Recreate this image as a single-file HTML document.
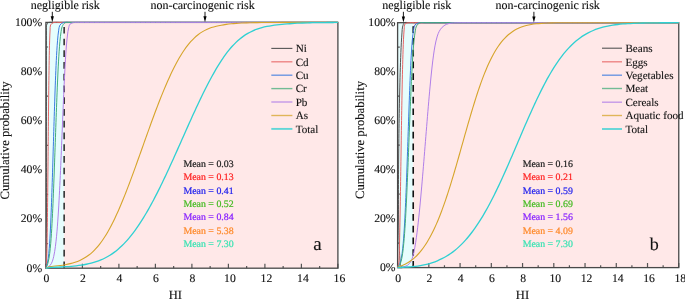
<!DOCTYPE html>
<html><head><meta charset="utf-8"><style>
html,body{margin:0;padding:0;background:#fff;width:685px;height:300px;overflow:hidden}
svg{display:block;will-change:transform;filter:blur(0.3px)}
text{font-family:"Liberation Serif", serif;text-rendering:geometricPrecision;stroke:#111;stroke-width:0.12px}
</style></head><body>
<svg width="685" height="300" viewBox="0 0 685 300" font-size="10.8" fill="#111" stroke="none">
<rect width="685" height="300" fill="#fff"/>
<g>
<rect x="45.90" y="22.40" width="18.25" height="245.80" fill="#e6fdfd"/>
<rect x="64.15" y="22.40" width="273.75" height="245.80" fill="#ffe8e8"/>
<line x1="64.15" y1="268.20" x2="64.15" y2="22.40" stroke="#333" stroke-width="1.6" stroke-dasharray="6.7,5.03" stroke-dashoffset="0"/>
<path d="M45.90,268.20v-4.50M64.15,268.20v-2.30M82.40,268.20v-4.50M100.65,268.20v-2.30M118.90,268.20v-4.50M137.15,268.20v-2.30M155.40,268.20v-4.50M173.65,268.20v-2.30M191.90,268.20v-4.50M210.15,268.20v-2.30M228.40,268.20v-4.50M246.65,268.20v-2.30M264.90,268.20v-4.50M283.15,268.20v-2.30M301.40,268.20v-4.50M319.65,268.20v-2.30M337.90,268.20v-4.50M45.90,243.62h2.20M45.90,194.46h2.20M45.90,145.30h2.20M45.90,96.14h2.20M45.90,46.98h2.20" stroke="#555" stroke-width="1.2" fill="none"/>
<rect x="45.90" y="22.40" width="292.00" height="245.80" fill="none" stroke="#484848" stroke-width="1.3"/>
<path d="M45.90,268.20 C46.00,267.45 46.40,265.32 46.50,263.73 C46.60,262.13 46.50,260.34 46.50,258.65 C46.50,256.96 46.50,255.27 46.50,253.58 C46.50,251.89 46.50,250.20 46.50,248.50 C46.50,246.81 46.50,245.12 46.50,243.43 C46.50,241.74 46.50,240.05 46.50,238.36 C46.50,236.67 46.50,234.98 46.50,233.28 C46.50,231.59 46.50,229.90 46.50,228.21 C46.50,226.52 46.50,224.83 46.50,223.14 C46.50,221.45 46.50,219.75 46.50,218.06 C46.50,216.37 46.50,214.68 46.50,212.99 C46.50,211.30 46.50,209.61 46.50,207.92 C46.50,206.23 46.50,204.53 46.50,202.84 C46.50,201.15 46.50,199.46 46.50,197.77 C46.50,196.08 46.50,194.39 46.50,192.70 C46.50,191.00 46.50,189.31 46.50,187.62 C46.50,185.93 46.50,184.24 46.50,182.55 C46.50,180.86 46.50,179.17 46.50,177.47 C46.50,175.78 46.50,174.09 46.50,172.40 C46.50,170.71 46.50,169.02 46.50,167.33 C46.50,165.64 46.50,163.95 46.50,162.25 C46.50,160.56 46.50,158.87 46.50,157.18 C46.50,155.49 46.50,153.80 46.50,152.11 C46.50,150.42 46.50,148.72 46.50,147.03 C46.50,145.34 46.50,143.65 46.50,141.96 C46.50,140.27 46.50,138.58 46.50,136.89 C46.50,135.20 46.50,133.50 46.50,131.81 C46.50,130.12 46.50,128.43 46.50,126.74 C46.50,125.05 46.50,123.36 46.50,121.67 C46.50,119.97 46.50,118.28 46.50,116.59 C46.50,114.90 46.50,113.21 46.50,111.52 C46.50,109.83 46.50,108.14 46.50,106.44 C46.50,104.75 46.50,103.06 46.50,101.37 C46.50,99.68 46.50,97.99 46.50,96.30 C46.50,94.61 46.50,92.92 46.50,91.22 C46.50,89.53 46.50,87.84 46.50,86.15 C46.50,84.46 46.50,82.77 46.50,81.08 C46.50,79.39 46.50,77.69 46.50,76.00 C46.50,74.31 46.50,72.62 46.50,70.93 C46.50,69.24 46.50,67.55 46.50,65.86 C46.50,64.17 46.50,62.47 46.50,60.78 C46.50,59.09 46.50,57.40 46.50,55.71 C46.50,54.02 46.50,52.33 46.50,50.64 C46.50,48.94 46.50,47.25 46.50,45.56 C46.50,43.87 46.50,42.18 46.50,40.49 C46.50,38.80 46.50,37.11 46.50,35.41 C46.50,33.72 46.50,32.03 46.50,30.34 C46.50,28.65 46.13,26.59 46.50,25.27 C46.87,23.94 47.49,22.88 48.71,22.40 C49.92,21.92 52.09,22.40 53.78,22.40 C55.47,22.40 57.16,22.40 58.85,22.40 C60.54,22.40 62.24,22.40 63.93,22.40 C65.62,22.40 67.31,22.40 69.00,22.40 C70.69,22.40 72.38,22.40 74.07,22.40 C75.77,22.40 77.46,22.40 79.15,22.40 C80.84,22.40 82.53,22.40 84.22,22.40 C85.91,22.40 87.60,22.40 89.30,22.40 C90.99,22.40 92.68,22.40 94.37,22.40 C96.06,22.40 97.75,22.40 99.44,22.40 C101.13,22.40 102.82,22.40 104.52,22.40 C106.21,22.40 107.90,22.40 109.59,22.40 C111.28,22.40 112.97,22.40 114.66,22.40 C116.35,22.40 118.05,22.40 119.74,22.40 C121.43,22.40 123.12,22.40 124.81,22.40 C126.50,22.40 128.19,22.40 129.88,22.40 C131.57,22.40 133.27,22.40 134.96,22.40 C136.65,22.40 138.34,22.40 140.03,22.40 C141.72,22.40 143.41,22.40 145.10,22.40 C146.80,22.40 148.49,22.40 150.18,22.40 C151.87,22.40 153.56,22.40 155.25,22.40 C156.94,22.40 158.63,22.40 160.33,22.40 C162.02,22.40 163.71,22.40 165.40,22.40 C167.09,22.40 168.78,22.40 170.47,22.40 C172.16,22.40 173.85,22.40 175.55,22.40 C177.24,22.40 178.93,22.40 180.62,22.40 C182.31,22.40 184.00,22.40 185.69,22.40 C187.38,22.40 189.08,22.40 190.77,22.40 C192.46,22.40 194.15,22.40 195.84,22.40 C197.53,22.40 199.22,22.40 200.91,22.40 C202.60,22.40 204.30,22.40 205.99,22.40 C207.68,22.40 209.37,22.40 211.06,22.40 C212.75,22.40 214.44,22.40 216.13,22.40 C217.83,22.40 219.52,22.40 221.21,22.40 C222.90,22.40 224.59,22.40 226.28,22.40 C227.97,22.40 229.66,22.40 231.36,22.40 C233.05,22.40 234.74,22.40 236.43,22.40 C238.12,22.40 239.81,22.40 241.50,22.40 C243.19,22.40 244.88,22.40 246.58,22.40 C248.27,22.40 249.96,22.40 251.65,22.40 C253.34,22.40 255.03,22.40 256.72,22.40 C258.41,22.40 260.11,22.40 261.80,22.40 C263.49,22.40 265.18,22.40 266.87,22.40 C268.56,22.40 270.25,22.40 271.94,22.40 C273.63,22.40 275.33,22.40 277.02,22.40 C278.71,22.40 280.40,22.40 282.09,22.40 C283.78,22.40 285.47,22.40 287.16,22.40 C288.86,22.40 290.55,22.40 292.24,22.40 C293.93,22.40 295.62,22.40 297.31,22.40 C299.00,22.40 300.69,22.40 302.39,22.40 C304.08,22.40 305.77,22.40 307.46,22.40 C309.15,22.40 310.84,22.40 312.53,22.40 C314.22,22.40 315.91,22.40 317.61,22.40 C319.30,22.40 320.99,22.40 322.68,22.40 C324.37,22.40 326.06,22.40 327.75,22.40 C329.44,22.40 331.14,22.40 332.83,22.40 C334.52,22.40 337.05,22.40 337.90,22.40" stroke="#555555" stroke-width="1.0" fill="none" stroke-linejoin="round"/>
<path d="M45.90,268.20 C46.00,267.36 46.36,264.86 46.50,263.18 C46.63,261.50 46.65,259.81 46.71,258.12 C46.77,256.43 46.82,254.74 46.86,253.05 C46.90,251.36 46.94,249.67 46.98,247.98 C47.01,246.29 47.04,244.60 47.07,242.91 C47.10,241.22 47.13,239.53 47.16,237.84 C47.19,236.15 47.21,234.46 47.24,232.77 C47.26,231.08 47.29,229.39 47.31,227.70 C47.33,226.01 47.35,224.32 47.38,222.63 C47.40,220.94 47.42,219.25 47.44,217.56 C47.46,215.87 47.48,214.18 47.50,212.49 C47.52,210.80 47.54,209.11 47.56,207.42 C47.58,205.73 47.59,204.04 47.61,202.35 C47.63,200.66 47.65,198.97 47.67,197.28 C47.68,195.59 47.70,193.90 47.72,192.21 C47.74,190.52 47.75,188.83 47.77,187.14 C47.79,185.45 47.80,183.76 47.82,182.07 C47.84,180.38 47.85,178.69 47.87,177.00 C47.89,175.31 47.90,173.62 47.92,171.93 C47.94,170.24 47.95,168.55 47.97,166.86 C47.99,165.17 48.00,163.48 48.02,161.79 C48.03,160.10 48.05,158.41 48.07,156.72 C48.08,155.03 48.10,153.34 48.11,151.65 C48.13,149.96 48.15,148.27 48.16,146.58 C48.18,144.89 48.20,143.20 48.21,141.51 C48.23,139.82 48.24,138.13 48.26,136.44 C48.28,134.75 48.29,133.06 48.31,131.37 C48.33,129.68 48.34,127.99 48.36,126.30 C48.38,124.61 48.40,122.92 48.41,121.23 C48.43,119.54 48.45,117.85 48.46,116.16 C48.48,114.47 48.50,112.78 48.52,111.09 C48.54,109.40 48.55,107.71 48.57,106.02 C48.59,104.33 48.61,102.64 48.63,100.95 C48.65,99.26 48.67,97.57 48.69,95.88 C48.71,94.19 48.73,92.50 48.75,90.81 C48.77,89.12 48.79,87.43 48.81,85.74 C48.83,84.05 48.85,82.36 48.88,80.67 C48.90,78.98 48.92,77.29 48.94,75.60 C48.97,73.91 48.99,72.22 49.02,70.53 C49.04,68.84 49.07,67.15 49.10,65.46 C49.12,63.77 49.15,62.08 49.18,60.39 C49.21,58.70 49.24,57.01 49.28,55.32 C49.31,53.63 49.35,51.94 49.38,50.26 C49.42,48.57 49.46,46.88 49.50,45.19 C49.55,43.50 49.59,41.81 49.65,40.12 C49.70,38.43 49.76,36.74 49.83,35.05 C49.90,33.36 49.96,31.67 50.09,29.99 C50.21,28.30 49.93,26.21 50.58,24.94 C51.22,23.68 52.56,22.82 53.96,22.40 C55.37,21.98 57.35,22.40 59.04,22.40 C60.73,22.40 62.42,22.40 64.11,22.40 C65.80,22.40 67.49,22.40 69.18,22.40 C70.87,22.40 72.56,22.40 74.25,22.40 C75.94,22.40 77.63,22.40 79.32,22.40 C81.01,22.40 82.70,22.40 84.39,22.40 C86.08,22.40 87.77,22.40 89.46,22.40 C91.15,22.40 92.84,22.40 94.53,22.40 C96.22,22.40 97.91,22.40 99.60,22.40 C101.29,22.40 102.98,22.40 104.67,22.40 C106.36,22.40 108.05,22.40 109.74,22.40 C111.43,22.40 113.12,22.40 114.81,22.40 C116.50,22.40 118.19,22.40 119.88,22.40 C121.57,22.40 123.26,22.40 124.95,22.40 C126.64,22.40 128.33,22.40 130.02,22.40 C131.71,22.40 133.40,22.40 135.09,22.40 C136.78,22.40 138.47,22.40 140.16,22.40 C141.85,22.40 143.54,22.40 145.23,22.40 C146.92,22.40 148.61,22.40 150.30,22.40 C151.99,22.40 153.68,22.40 155.37,22.40 C157.06,22.40 158.75,22.40 160.44,22.40 C162.13,22.40 163.82,22.40 165.51,22.40 C167.20,22.40 168.89,22.40 170.58,22.40 C172.27,22.40 173.96,22.40 175.65,22.40 C177.34,22.40 179.03,22.40 180.72,22.40 C182.41,22.40 184.10,22.40 185.79,22.40 C187.48,22.40 189.17,22.40 190.86,22.40 C192.55,22.40 194.24,22.40 195.93,22.40 C197.62,22.40 199.31,22.40 201.00,22.40 C202.69,22.40 204.38,22.40 206.07,22.40 C207.76,22.40 209.45,22.40 211.14,22.40 C212.83,22.40 214.52,22.40 216.21,22.40 C217.90,22.40 219.59,22.40 221.28,22.40 C222.97,22.40 224.66,22.40 226.35,22.40 C228.04,22.40 229.73,22.40 231.42,22.40 C233.11,22.40 234.80,22.40 236.49,22.40 C238.18,22.40 239.87,22.40 241.56,22.40 C243.25,22.40 244.95,22.40 246.64,22.40 C248.33,22.40 250.02,22.40 251.71,22.40 C253.40,22.40 255.09,22.40 256.78,22.40 C258.47,22.40 260.16,22.40 261.85,22.40 C263.54,22.40 265.23,22.40 266.92,22.40 C268.61,22.40 270.30,22.40 271.99,22.40 C273.68,22.40 275.37,22.40 277.06,22.40 C278.75,22.40 280.44,22.40 282.13,22.40 C283.82,22.40 285.51,22.40 287.20,22.40 C288.89,22.40 290.58,22.40 292.27,22.40 C293.96,22.40 295.65,22.40 297.34,22.40 C299.03,22.40 300.72,22.40 302.41,22.40 C304.10,22.40 305.79,22.40 307.48,22.40 C309.17,22.40 310.86,22.40 312.55,22.40 C314.24,22.40 315.93,22.40 317.62,22.40 C319.31,22.40 321.00,22.40 322.69,22.40 C324.38,22.40 326.07,22.40 327.76,22.40 C329.45,22.40 331.14,22.40 332.83,22.40 C334.52,22.40 337.05,22.40 337.90,22.40" stroke="#e86464" stroke-width="1.0" fill="none" stroke-linejoin="round"/>
<path d="M45.90,268.20 C46.14,267.40 46.95,265.06 47.34,263.43 C47.73,261.80 47.99,260.10 48.23,258.43 C48.48,256.76 48.64,255.07 48.81,253.38 C48.99,251.70 49.12,250.01 49.26,248.32 C49.39,246.64 49.51,244.95 49.63,243.26 C49.74,241.57 49.84,239.88 49.94,238.19 C50.04,236.50 50.13,234.81 50.22,233.12 C50.31,231.43 50.40,229.73 50.48,228.04 C50.56,226.35 50.64,224.66 50.71,222.97 C50.79,221.28 50.86,219.59 50.93,217.89 C51.00,216.20 51.07,214.51 51.14,212.82 C51.21,211.13 51.27,209.44 51.34,207.74 C51.40,206.05 51.46,204.36 51.53,202.67 C51.59,200.98 51.65,199.28 51.71,197.59 C51.77,195.90 51.82,194.21 51.88,192.51 C51.94,190.82 51.99,189.13 52.05,187.44 C52.11,185.75 52.16,184.05 52.22,182.36 C52.27,180.67 52.32,178.98 52.38,177.28 C52.43,175.59 52.48,173.90 52.54,172.21 C52.59,170.51 52.64,168.82 52.69,167.13 C52.75,165.44 52.80,163.75 52.85,162.05 C52.90,160.36 52.95,158.67 53.00,156.98 C53.05,155.28 53.10,153.59 53.15,151.90 C53.21,150.21 53.26,148.51 53.31,146.82 C53.36,145.13 53.41,143.44 53.46,141.74 C53.51,140.05 53.56,138.36 53.61,136.67 C53.66,134.97 53.71,133.28 53.76,131.59 C53.81,129.90 53.86,128.20 53.92,126.51 C53.97,124.82 54.02,123.13 54.07,121.43 C54.12,119.74 54.18,118.05 54.23,116.36 C54.28,114.67 54.33,112.97 54.39,111.28 C54.44,109.59 54.49,107.90 54.55,106.20 C54.60,104.51 54.66,102.82 54.72,101.13 C54.77,99.43 54.83,97.74 54.89,96.05 C54.94,94.36 55.00,92.67 55.06,90.97 C55.12,89.28 55.18,87.59 55.24,85.90 C55.31,84.20 55.37,82.51 55.43,80.82 C55.50,79.13 55.56,77.44 55.63,75.75 C55.70,74.05 55.77,72.36 55.84,70.67 C55.91,68.98 55.99,67.29 56.06,65.60 C56.14,63.90 56.22,62.21 56.30,60.52 C56.39,58.83 56.47,57.14 56.56,55.45 C56.66,53.76 56.75,52.07 56.85,50.38 C56.96,48.69 57.06,47.00 57.18,45.31 C57.30,43.62 57.42,41.93 57.57,40.24 C57.71,38.56 57.86,36.87 58.04,35.19 C58.23,33.50 58.40,31.81 58.70,30.15 C59.00,28.49 59.03,26.50 59.85,25.21 C60.67,23.92 62.13,22.90 63.60,22.43 C65.08,21.96 66.99,22.41 68.68,22.40 C70.38,22.40 72.07,22.40 73.76,22.40 C75.46,22.40 77.15,22.40 78.84,22.40 C80.54,22.40 82.23,22.40 83.92,22.40 C85.61,22.40 87.31,22.40 89.00,22.40 C90.69,22.40 92.39,22.40 94.08,22.40 C95.77,22.40 97.47,22.40 99.16,22.40 C100.85,22.40 102.55,22.40 104.24,22.40 C105.93,22.40 107.63,22.40 109.32,22.40 C111.01,22.40 112.71,22.40 114.40,22.40 C116.09,22.40 117.79,22.40 119.48,22.40 C121.17,22.40 122.87,22.40 124.56,22.40 C126.25,22.40 127.94,22.40 129.64,22.40 C131.33,22.40 133.02,22.40 134.72,22.40 C136.41,22.40 138.10,22.40 139.80,22.40 C141.49,22.40 143.18,22.40 144.88,22.40 C146.57,22.40 148.26,22.40 149.96,22.40 C151.65,22.40 153.34,22.40 155.04,22.40 C156.73,22.40 158.42,22.40 160.12,22.40 C161.81,22.40 163.50,22.40 165.19,22.40 C166.89,22.40 168.58,22.40 170.27,22.40 C171.97,22.40 173.66,22.40 175.35,22.40 C177.05,22.40 178.74,22.40 180.43,22.40 C182.13,22.40 183.82,22.40 185.51,22.40 C187.21,22.40 188.90,22.40 190.59,22.40 C192.29,22.40 193.98,22.40 195.67,22.40 C197.37,22.40 199.06,22.40 200.75,22.40 C202.44,22.40 204.14,22.40 205.83,22.40 C207.52,22.40 209.22,22.40 210.91,22.40 C212.60,22.40 214.30,22.40 215.99,22.40 C217.68,22.40 219.38,22.40 221.07,22.40 C222.76,22.40 224.46,22.40 226.15,22.40 C227.84,22.40 229.54,22.40 231.23,22.40 C232.92,22.40 234.62,22.40 236.31,22.40 C238.00,22.40 239.70,22.40 241.39,22.40 C243.08,22.40 244.77,22.40 246.47,22.40 C248.16,22.40 249.85,22.40 251.55,22.40 C253.24,22.40 254.93,22.40 256.63,22.40 C258.32,22.40 260.01,22.40 261.71,22.40 C263.40,22.40 265.09,22.40 266.79,22.40 C268.48,22.40 270.17,22.40 271.87,22.40 C273.56,22.40 275.25,22.40 276.95,22.40 C278.64,22.40 280.33,22.40 282.02,22.40 C283.72,22.40 285.41,22.40 287.10,22.40 C288.80,22.40 290.49,22.40 292.18,22.40 C293.88,22.40 295.57,22.40 297.26,22.40 C298.96,22.40 300.65,22.40 302.34,22.40 C304.04,22.40 305.73,22.40 307.42,22.40 C309.12,22.40 310.81,22.40 312.50,22.40 C314.20,22.40 315.89,22.40 317.58,22.40 C319.27,22.40 320.97,22.40 322.66,22.40 C324.35,22.40 326.05,22.40 327.74,22.40 C329.43,22.40 331.13,22.40 332.82,22.40 C334.51,22.40 337.05,22.40 337.90,22.40" stroke="#3a7be0" stroke-width="1.0" fill="none" stroke-linejoin="round"/>
<path d="M45.90,268.20 C46.21,267.44 47.24,265.23 47.75,263.65 C48.25,262.08 48.60,260.39 48.92,258.74 C49.24,257.09 49.45,255.41 49.67,253.74 C49.89,252.07 50.06,250.39 50.23,248.72 C50.40,247.04 50.55,245.36 50.69,243.68 C50.83,242.00 50.96,240.32 51.08,238.64 C51.20,236.96 51.32,235.28 51.43,233.60 C51.54,231.92 51.64,230.24 51.74,228.55 C51.84,226.87 51.93,225.19 52.02,223.51 C52.12,221.82 52.20,220.14 52.29,218.46 C52.37,216.78 52.46,215.09 52.54,213.41 C52.62,211.73 52.70,210.04 52.77,208.36 C52.85,206.68 52.92,204.99 53.00,203.31 C53.07,201.63 53.14,199.94 53.21,198.26 C53.28,196.58 53.35,194.89 53.42,193.21 C53.49,191.53 53.55,189.84 53.62,188.16 C53.69,186.47 53.75,184.79 53.81,183.11 C53.88,181.42 53.94,179.74 54.01,178.05 C54.07,176.37 54.13,174.69 54.19,173.00 C54.25,171.32 54.31,169.64 54.37,167.95 C54.44,166.27 54.50,164.58 54.56,162.90 C54.62,161.22 54.67,159.53 54.73,157.85 C54.79,156.16 54.85,154.48 54.91,152.80 C54.97,151.11 55.03,149.43 55.09,147.74 C55.15,146.06 55.20,144.38 55.26,142.69 C55.32,141.01 55.38,139.32 55.44,137.64 C55.50,135.96 55.56,134.27 55.61,132.59 C55.67,130.90 55.73,129.22 55.79,127.54 C55.85,125.85 55.91,124.17 55.97,122.48 C56.03,120.80 56.09,119.12 56.15,117.43 C56.21,115.75 56.27,114.06 56.33,112.38 C56.39,110.70 56.45,109.01 56.52,107.33 C56.58,105.64 56.64,103.96 56.71,102.28 C56.77,100.59 56.84,98.91 56.90,97.22 C56.97,95.54 57.03,93.86 57.10,92.17 C57.17,90.49 57.24,88.81 57.31,87.12 C57.38,85.44 57.45,83.76 57.52,82.07 C57.59,80.39 57.67,78.71 57.75,77.02 C57.82,75.34 57.90,73.66 57.98,71.97 C58.06,70.29 58.14,68.61 58.23,66.92 C58.32,65.24 58.41,63.56 58.50,61.88 C58.59,60.19 58.69,58.51 58.79,56.83 C58.89,55.15 59.00,53.46 59.11,51.78 C59.22,50.10 59.34,48.42 59.47,46.74 C59.60,45.06 59.74,43.38 59.89,41.70 C60.05,40.03 60.20,38.35 60.40,36.67 C60.60,35.00 60.79,33.32 61.08,31.67 C61.37,30.01 61.49,28.21 62.14,26.73 C62.79,25.24 63.65,23.48 64.96,22.76 C66.26,22.04 68.30,22.46 69.98,22.40 C71.66,22.34 73.35,22.40 75.03,22.40 C76.72,22.40 78.40,22.40 80.09,22.40 C81.77,22.40 83.46,22.40 85.14,22.40 C86.83,22.40 88.51,22.40 90.20,22.40 C91.88,22.40 93.57,22.40 95.25,22.40 C96.94,22.40 98.62,22.40 100.31,22.40 C101.99,22.40 103.68,22.40 105.36,22.40 C107.05,22.40 108.73,22.40 110.42,22.40 C112.10,22.40 113.79,22.40 115.47,22.40 C117.16,22.40 118.84,22.40 120.53,22.40 C122.21,22.40 123.90,22.40 125.58,22.40 C127.27,22.40 128.96,22.40 130.64,22.40 C132.33,22.40 134.01,22.40 135.70,22.40 C137.38,22.40 139.07,22.40 140.75,22.40 C142.44,22.40 144.12,22.40 145.81,22.40 C147.49,22.40 149.18,22.40 150.86,22.40 C152.55,22.40 154.23,22.40 155.92,22.40 C157.60,22.40 159.29,22.40 160.97,22.40 C162.66,22.40 164.34,22.40 166.03,22.40 C167.71,22.40 169.40,22.40 171.08,22.40 C172.77,22.40 174.45,22.40 176.14,22.40 C177.82,22.40 179.51,22.40 181.19,22.40 C182.88,22.40 184.56,22.40 186.25,22.40 C187.93,22.40 189.62,22.40 191.30,22.40 C192.99,22.40 194.67,22.40 196.36,22.40 C198.04,22.40 199.73,22.40 201.41,22.40 C203.10,22.40 204.78,22.40 206.47,22.40 C208.15,22.40 209.84,22.40 211.52,22.40 C213.21,22.40 214.89,22.40 216.58,22.40 C218.26,22.40 219.95,22.40 221.63,22.40 C223.32,22.40 225.00,22.40 226.69,22.40 C228.37,22.40 230.06,22.40 231.74,22.40 C233.43,22.40 235.11,22.40 236.80,22.40 C238.48,22.40 240.17,22.40 241.85,22.40 C243.54,22.40 245.22,22.40 246.91,22.40 C248.59,22.40 250.28,22.40 251.96,22.40 C253.65,22.40 255.33,22.40 257.02,22.40 C258.70,22.40 260.39,22.40 262.07,22.40 C263.76,22.40 265.44,22.40 267.13,22.40 C268.81,22.40 270.50,22.40 272.18,22.40 C273.87,22.40 275.55,22.40 277.24,22.40 C278.92,22.40 280.61,22.40 282.29,22.40 C283.98,22.40 285.66,22.40 287.35,22.40 C289.03,22.40 290.72,22.40 292.40,22.40 C294.09,22.40 295.77,22.40 297.46,22.40 C299.14,22.40 300.83,22.40 302.51,22.40 C304.20,22.40 305.88,22.40 307.57,22.40 C309.25,22.40 310.94,22.40 312.62,22.40 C314.31,22.40 315.99,22.40 317.68,22.40 C319.36,22.40 321.05,22.40 322.73,22.40 C324.42,22.40 326.10,22.40 327.79,22.40 C329.47,22.40 331.16,22.40 332.84,22.40 C334.53,22.40 337.06,22.40 337.90,22.40" stroke="#43ad7a" stroke-width="1.0" fill="none" stroke-linejoin="round"/>
<path d="M45.90,268.20 C46.58,267.77 48.90,266.78 49.99,265.61 C51.07,264.45 51.77,262.74 52.40,261.19 C53.03,259.65 53.37,257.96 53.76,256.32 C54.14,254.68 54.42,253.01 54.70,251.34 C54.98,249.68 55.21,248.00 55.43,246.33 C55.65,244.66 55.85,242.98 56.03,241.30 C56.22,239.62 56.39,237.94 56.55,236.26 C56.71,234.58 56.86,232.90 57.00,231.21 C57.15,229.53 57.28,227.85 57.41,226.16 C57.54,224.48 57.66,222.80 57.78,221.11 C57.90,219.43 58.01,217.74 58.12,216.06 C58.24,214.37 58.34,212.69 58.45,211.00 C58.55,209.32 58.65,207.63 58.75,205.95 C58.84,204.26 58.94,202.57 59.03,200.89 C59.12,199.20 59.21,197.52 59.30,195.83 C59.39,194.14 59.48,192.46 59.56,190.77 C59.65,189.08 59.73,187.40 59.81,185.71 C59.90,184.02 59.98,182.34 60.06,180.65 C60.14,178.96 60.22,177.28 60.29,175.59 C60.37,173.90 60.45,172.22 60.52,170.53 C60.60,168.84 60.67,167.16 60.75,165.47 C60.82,163.78 60.89,162.10 60.96,160.41 C61.04,158.72 61.11,157.03 61.18,155.35 C61.25,153.66 61.32,151.97 61.39,150.29 C61.46,148.60 61.53,146.91 61.60,145.22 C61.67,143.54 61.74,141.85 61.81,140.16 C61.88,138.48 61.95,136.79 62.02,135.10 C62.09,133.41 62.16,131.73 62.23,130.04 C62.29,128.35 62.36,126.67 62.43,124.98 C62.50,123.29 62.57,121.60 62.64,119.92 C62.71,118.23 62.78,116.54 62.85,114.86 C62.92,113.17 62.99,111.48 63.06,109.79 C63.13,108.11 63.20,106.42 63.27,104.73 C63.34,103.05 63.41,101.36 63.48,99.67 C63.56,97.98 63.63,96.30 63.70,94.61 C63.78,92.92 63.85,91.24 63.93,89.55 C64.01,87.86 64.08,86.18 64.16,84.49 C64.24,82.80 64.32,81.12 64.40,79.43 C64.48,77.74 64.56,76.06 64.65,74.37 C64.73,72.68 64.82,71.00 64.91,69.31 C65.00,67.62 65.09,65.94 65.19,64.25 C65.28,62.57 65.38,60.88 65.48,59.19 C65.58,57.51 65.69,55.82 65.80,54.14 C65.91,52.45 66.03,50.77 66.15,49.09 C66.28,47.40 66.41,45.72 66.55,44.04 C66.70,42.35 66.85,40.67 67.02,38.99 C67.20,37.31 67.37,35.63 67.61,33.96 C67.84,32.29 68.02,30.59 68.43,28.96 C68.83,27.33 69.01,25.27 70.02,24.18 C71.03,23.09 72.89,22.71 74.48,22.41 C76.07,22.12 77.86,22.40 79.55,22.40 C81.23,22.40 82.92,22.40 84.61,22.40 C86.30,22.40 87.99,22.40 89.68,22.40 C91.37,22.40 93.05,22.40 94.74,22.40 C96.43,22.40 98.12,22.40 99.81,22.40 C101.50,22.40 103.19,22.40 104.87,22.40 C106.56,22.40 108.25,22.40 109.94,22.40 C111.63,22.40 113.32,22.40 115.01,22.40 C116.69,22.40 118.38,22.40 120.07,22.40 C121.76,22.40 123.45,22.40 125.14,22.40 C126.83,22.40 128.51,22.40 130.20,22.40 C131.89,22.40 133.58,22.40 135.27,22.40 C136.96,22.40 138.65,22.40 140.33,22.40 C142.02,22.40 143.71,22.40 145.40,22.40 C147.09,22.40 148.78,22.40 150.47,22.40 C152.15,22.40 153.84,22.40 155.53,22.40 C157.22,22.40 158.91,22.40 160.60,22.40 C162.29,22.40 163.98,22.40 165.66,22.40 C167.35,22.40 169.04,22.40 170.73,22.40 C172.42,22.40 174.11,22.40 175.80,22.40 C177.48,22.40 179.17,22.40 180.86,22.40 C182.55,22.40 184.24,22.40 185.93,22.40 C187.62,22.40 189.30,22.40 190.99,22.40 C192.68,22.40 194.37,22.40 196.06,22.40 C197.75,22.40 199.44,22.40 201.12,22.40 C202.81,22.40 204.50,22.40 206.19,22.40 C207.88,22.40 209.57,22.40 211.26,22.40 C212.94,22.40 214.63,22.40 216.32,22.40 C218.01,22.40 219.70,22.40 221.39,22.40 C223.08,22.40 224.76,22.40 226.45,22.40 C228.14,22.40 229.83,22.40 231.52,22.40 C233.21,22.40 234.90,22.40 236.58,22.40 C238.27,22.40 239.96,22.40 241.65,22.40 C243.34,22.40 245.03,22.40 246.72,22.40 C248.40,22.40 250.09,22.40 251.78,22.40 C253.47,22.40 255.16,22.40 256.85,22.40 C258.54,22.40 260.22,22.40 261.91,22.40 C263.60,22.40 265.29,22.40 266.98,22.40 C268.67,22.40 270.36,22.40 272.04,22.40 C273.73,22.40 275.42,22.40 277.11,22.40 C278.80,22.40 280.49,22.40 282.18,22.40 C283.87,22.40 285.55,22.40 287.24,22.40 C288.93,22.40 290.62,22.40 292.31,22.40 C294.00,22.40 295.69,22.40 297.37,22.40 C299.06,22.40 300.75,22.40 302.44,22.40 C304.13,22.40 305.82,22.40 307.51,22.40 C309.19,22.40 310.88,22.40 312.57,22.40 C314.26,22.40 315.95,22.40 317.64,22.40 C319.33,22.40 321.01,22.40 322.70,22.40 C324.39,22.40 326.08,22.40 327.77,22.40 C329.46,22.40 331.15,22.40 332.83,22.40 C334.52,22.40 337.06,22.40 337.90,22.40" stroke="#b07ee8" stroke-width="1.0" fill="none" stroke-linejoin="round"/>
<path d="M45.90,268.20 C46.60,267.92 48.55,266.86 50.09,266.50 C51.63,266.14 53.47,266.23 55.15,266.06 C56.83,265.89 58.52,265.70 60.19,265.47 C61.87,265.24 63.54,264.99 65.21,264.69 C66.87,264.38 68.53,264.04 70.18,263.63 C71.82,263.22 73.45,262.77 75.05,262.23 C76.66,261.69 78.25,261.09 79.79,260.40 C81.33,259.71 82.85,258.94 84.31,258.09 C85.76,257.24 87.18,256.29 88.54,255.29 C89.89,254.28 91.20,253.19 92.45,252.05 C93.69,250.91 94.88,249.70 96.03,248.45 C97.17,247.21 98.26,245.91 99.31,244.58 C100.36,243.25 101.36,241.89 102.33,240.50 C103.30,239.12 104.23,237.70 105.14,236.27 C106.04,234.84 106.91,233.38 107.75,231.92 C108.60,230.45 109.42,228.97 110.22,227.48 C111.02,225.99 111.80,224.48 112.56,222.97 C113.32,221.46 114.06,219.94 114.79,218.41 C115.52,216.88 116.23,215.35 116.93,213.81 C117.63,212.27 118.32,210.72 118.99,209.17 C119.67,207.62 120.34,206.06 120.99,204.50 C121.65,202.94 122.30,201.38 122.94,199.81 C123.58,198.24 124.21,196.67 124.83,195.10 C125.46,193.53 126.08,191.95 126.69,190.37 C127.30,188.80 127.91,187.22 128.51,185.63 C129.12,184.05 129.71,182.47 130.31,180.88 C130.90,179.30 131.49,177.71 132.08,176.12 C132.66,174.54 133.25,172.95 133.83,171.36 C134.41,169.77 134.98,168.18 135.56,166.58 C136.14,164.99 136.71,163.40 137.28,161.81 C137.85,160.21 138.42,158.62 138.99,157.03 C139.56,155.43 140.13,153.84 140.70,152.24 C141.26,150.65 141.83,149.05 142.40,147.46 C142.97,145.87 143.53,144.27 144.10,142.68 C144.67,141.08 145.23,139.49 145.80,137.89 C146.37,136.30 146.94,134.70 147.51,133.11 C148.09,131.52 148.66,129.93 149.23,128.33 C149.81,126.74 150.38,125.15 150.96,123.56 C151.54,121.97 152.12,120.38 152.71,118.79 C153.29,117.20 153.88,115.62 154.47,114.03 C155.06,112.44 155.66,110.86 156.26,109.28 C156.86,107.69 157.46,106.11 158.07,104.53 C158.68,102.96 159.29,101.38 159.91,99.80 C160.53,98.23 161.16,96.66 161.79,95.09 C162.43,93.52 163.07,91.95 163.71,90.39 C164.36,88.82 165.02,87.26 165.68,85.70 C166.35,84.15 167.02,82.60 167.71,81.05 C168.39,79.50 169.09,77.96 169.79,76.42 C170.50,74.88 171.22,73.35 171.96,71.83 C172.69,70.30 173.44,68.78 174.21,67.27 C174.98,65.77 175.76,64.26 176.56,62.77 C177.37,61.29 178.19,59.80 179.03,58.34 C179.88,56.88 180.75,55.42 181.65,53.99 C182.55,52.56 183.48,51.14 184.44,49.75 C185.41,48.36 186.40,46.98 187.44,45.65 C188.47,44.31 189.55,43.00 190.67,41.74 C191.80,40.48 192.97,39.24 194.19,38.08 C195.42,36.92 196.70,35.80 198.04,34.76 C199.37,33.73 200.76,32.75 202.21,31.87 C203.65,30.99 205.15,30.19 206.68,29.48 C208.21,28.77 209.80,28.15 211.40,27.60 C213.00,27.06 214.63,26.61 216.28,26.20 C217.92,25.80 219.58,25.47 221.25,25.17 C222.91,24.86 224.59,24.61 226.26,24.38 C227.94,24.15 229.62,23.96 231.31,23.79 C232.99,23.62 234.68,23.49 236.36,23.36 C238.05,23.24 239.74,23.15 241.43,23.06 C243.12,22.97 244.81,22.90 246.51,22.84 C248.20,22.78 249.89,22.74 251.58,22.69 C253.27,22.65 254.97,22.62 256.66,22.59 C258.35,22.56 260.04,22.54 261.74,22.52 C263.43,22.50 265.12,22.49 266.81,22.48 C268.51,22.47 270.20,22.46 271.89,22.45 C273.58,22.44 275.28,22.43 276.97,22.43 C278.66,22.42 280.35,22.42 282.05,22.42 C283.74,22.41 285.43,22.41 287.12,22.41 C288.82,22.41 290.51,22.41 292.20,22.41 C293.89,22.41 295.59,22.40 297.28,22.40 C298.97,22.40 300.66,22.40 302.36,22.40 C304.05,22.40 305.74,22.40 307.43,22.40 C309.13,22.40 310.82,22.40 312.51,22.40 C314.20,22.40 315.90,22.40 317.59,22.40 C319.28,22.40 320.97,22.40 322.67,22.40 C324.36,22.40 326.05,22.40 327.74,22.40 C329.44,22.40 331.13,22.40 332.82,22.40 C334.51,22.40 337.05,22.40 337.90,22.40" stroke="#d6a42a" stroke-width="1.1" fill="none" stroke-linejoin="round"/>
<path d="M45.90,268.20 C46.72,268.08 49.16,267.61 50.83,267.46 C52.50,267.30 54.22,267.33 55.91,267.26 C57.61,267.18 59.30,267.10 61.00,267.01 C62.69,266.91 64.38,266.82 66.08,266.70 C67.77,266.58 69.46,266.46 71.15,266.31 C72.84,266.16 74.53,265.99 76.21,265.80 C77.90,265.60 79.58,265.38 81.26,265.12 C82.93,264.87 84.61,264.58 86.27,264.25 C87.93,263.92 89.59,263.55 91.23,263.12 C92.87,262.70 94.51,262.23 96.12,261.69 C97.72,261.16 99.32,260.57 100.88,259.91 C102.45,259.26 103.99,258.54 105.50,257.77 C107.00,256.99 108.48,256.15 109.92,255.25 C111.36,254.35 112.76,253.40 114.13,252.39 C115.49,251.39 116.82,250.33 118.12,249.23 C119.41,248.14 120.66,246.99 121.89,245.81 C123.11,244.64 124.29,243.42 125.45,242.18 C126.61,240.94 127.73,239.67 128.83,238.38 C129.92,237.08 130.99,235.76 132.04,234.43 C133.08,233.09 134.10,231.73 135.09,230.36 C136.09,228.99 137.06,227.60 138.02,226.20 C138.98,224.80 139.91,223.38 140.83,221.95 C141.75,220.53 142.65,219.09 143.54,217.65 C144.43,216.20 145.30,214.74 146.16,213.28 C147.02,211.82 147.86,210.35 148.70,208.87 C149.53,207.39 150.35,205.91 151.17,204.42 C151.98,202.93 152.78,201.44 153.57,199.94 C154.37,198.44 155.15,196.93 155.92,195.42 C156.70,193.91 157.47,192.40 158.23,190.88 C158.99,189.37 159.74,187.85 160.49,186.33 C161.24,184.80 161.98,183.28 162.71,181.75 C163.45,180.22 164.18,178.69 164.90,177.15 C165.63,175.62 166.35,174.09 167.07,172.55 C167.79,171.01 168.50,169.47 169.21,167.93 C169.92,166.39 170.62,164.85 171.33,163.30 C172.03,161.76 172.73,160.21 173.43,158.67 C174.13,157.12 174.82,155.58 175.52,154.03 C176.21,152.48 176.90,150.93 177.59,149.38 C178.29,147.83 178.97,146.28 179.66,144.73 C180.35,143.18 181.04,141.63 181.73,140.08 C182.42,138.53 183.11,136.98 183.80,135.43 C184.49,133.88 185.18,132.33 185.87,130.78 C186.56,129.23 187.25,127.68 187.94,126.13 C188.63,124.59 189.33,123.04 190.02,121.49 C190.72,119.94 191.42,118.40 192.12,116.85 C192.82,115.31 193.52,113.76 194.23,112.22 C194.94,110.68 195.65,109.14 196.36,107.60 C197.07,106.06 197.79,104.52 198.52,102.99 C199.24,101.46 199.97,99.92 200.70,98.39 C201.43,96.86 202.17,95.34 202.92,93.81 C203.67,92.29 204.42,90.77 205.18,89.25 C205.94,87.74 206.71,86.23 207.49,84.72 C208.27,83.21 209.05,81.71 209.85,80.21 C210.65,78.71 211.46,77.22 212.28,75.74 C213.10,74.25 213.93,72.77 214.78,71.31 C215.63,69.84 216.49,68.37 217.37,66.92 C218.25,65.47 219.14,64.03 220.06,62.60 C220.97,61.18 221.91,59.76 222.87,58.36 C223.83,56.96 224.81,55.58 225.82,54.21 C226.83,52.85 227.86,51.50 228.93,50.19 C230.00,48.87 231.09,47.57 232.23,46.31 C233.37,45.06 234.54,43.82 235.75,42.64 C236.96,41.46 238.21,40.30 239.51,39.22 C240.81,38.13 242.15,37.08 243.54,36.11 C244.92,35.13 246.36,34.21 247.83,33.37 C249.29,32.52 250.81,31.74 252.35,31.04 C253.89,30.34 255.47,29.71 257.07,29.14 C258.67,28.57 260.29,28.08 261.93,27.63 C263.56,27.19 265.22,26.81 266.88,26.47 C268.54,26.13 270.22,25.84 271.89,25.58 C273.57,25.31 275.25,25.07 276.93,24.86 C278.61,24.64 280.30,24.45 281.99,24.28 C283.67,24.11 285.36,23.97 287.06,23.83 C288.75,23.70 290.44,23.58 292.13,23.48 C293.83,23.37 295.52,23.28 297.21,23.20 C298.91,23.12 300.60,23.05 302.30,22.99 C303.99,22.93 305.69,22.88 307.39,22.83 C309.08,22.79 310.78,22.75 312.47,22.71 C314.17,22.68 315.87,22.65 317.56,22.63 C319.26,22.60 320.95,22.58 322.65,22.56 C324.35,22.54 326.04,22.53 327.74,22.51 C329.44,22.50 331.14,22.50 332.83,22.48 C334.52,22.46 337.05,22.41 337.90,22.40" stroke="#2fd0d2" stroke-width="1.3" fill="none" stroke-linejoin="round"/>
<text x="46.40" y="282.00" text-anchor="middle" font-size="11.7">0</text>
<text x="82.90" y="282.00" text-anchor="middle" font-size="11.7">2</text>
<text x="119.40" y="282.00" text-anchor="middle" font-size="11.7">4</text>
<text x="155.90" y="282.00" text-anchor="middle" font-size="11.7">6</text>
<text x="192.40" y="282.00" text-anchor="middle" font-size="11.7">8</text>
<text x="229.90" y="282.00" text-anchor="middle" font-size="11.7">10</text>
<text x="266.40" y="282.00" text-anchor="middle" font-size="11.7">12</text>
<text x="302.90" y="282.00" text-anchor="middle" font-size="11.7">14</text>
<text x="339.40" y="282.00" text-anchor="middle" font-size="11.7">16</text>
<text x="42.20" y="271.60" text-anchor="end" font-size="11.7">0%</text>
<text x="42.20" y="222.44" text-anchor="end" font-size="11.7">20%</text>
<text x="42.20" y="173.28" text-anchor="end" font-size="11.7">40%</text>
<text x="42.20" y="124.12" text-anchor="end" font-size="11.7">60%</text>
<text x="42.20" y="74.96" text-anchor="end" font-size="11.7">80%</text>
<text x="42.20" y="25.80" text-anchor="end" font-size="11.7">100%</text>
</g>
<g>
<rect x="397.60" y="22.70" width="15.62" height="244.90" fill="#e6fdfd"/>
<rect x="413.22" y="22.70" width="265.54" height="244.90" fill="#ffe8e8"/>
<line x1="413.22" y1="267.60" x2="413.22" y2="22.70" stroke="#111" stroke-width="1.6" stroke-dasharray="6.7,5.03" stroke-dashoffset="0"/>
<path d="M397.60,267.60v-4.50M413.22,267.60v-2.30M428.84,267.60v-4.50M444.46,267.60v-2.30M460.08,267.60v-4.50M475.70,267.60v-2.30M491.32,267.60v-4.50M506.94,267.60v-2.30M522.56,267.60v-4.50M538.18,267.60v-2.30M553.80,267.60v-4.50M569.42,267.60v-2.30M585.04,267.60v-4.50M600.66,267.60v-2.30M616.28,267.60v-4.50M631.90,267.60v-2.30M647.52,267.60v-4.50M663.14,267.60v-2.30M678.76,267.60v-4.50M397.60,243.11h2.20M397.60,194.13h2.20M397.60,145.15h2.20M397.60,96.17h2.20M397.60,47.19h2.20" stroke="#555" stroke-width="1.2" fill="none"/>
<rect x="397.60" y="22.70" width="281.16" height="244.90" fill="none" stroke="#484848" stroke-width="1.3"/>
<path d="M397.60,267.60 C398.45,267.60 402.16,267.93 402.68,267.60 C403.20,267.27 401.17,266.79 400.73,265.62 C400.28,264.45 400.19,262.28 400.01,260.60 C399.84,258.91 399.76,257.22 399.66,255.53 C399.56,253.84 399.49,252.15 399.41,250.46 C399.34,248.76 399.27,247.07 399.21,245.38 C399.15,243.69 399.10,242.00 399.05,240.30 C398.99,238.61 398.95,236.92 398.90,235.23 C398.86,233.53 398.81,231.84 398.77,230.15 C398.73,228.46 398.69,226.76 398.66,225.07 C398.63,223.38 398.61,221.68 398.58,219.99 C398.56,218.30 398.54,216.61 398.53,214.91 C398.51,213.22 398.50,211.53 398.49,209.83 C398.47,208.14 398.47,206.45 398.46,204.75 C398.45,203.06 398.45,201.37 398.45,199.67 C398.44,197.98 398.44,196.29 398.44,194.59 C398.44,192.90 398.45,191.21 398.45,189.52 C398.45,187.82 398.46,186.13 398.46,184.44 C398.47,182.74 398.48,181.05 398.49,179.36 C398.49,177.66 398.50,175.97 398.51,174.28 C398.52,172.58 398.54,170.89 398.55,169.20 C398.56,167.50 398.57,165.81 398.59,164.12 C398.60,162.43 398.62,160.73 398.63,159.04 C398.65,157.35 398.67,155.65 398.68,153.96 C398.70,152.27 398.72,150.57 398.74,148.88 C398.76,147.19 398.78,145.49 398.80,143.80 C398.82,142.11 398.84,140.42 398.86,138.72 C398.88,137.03 398.91,135.34 398.93,133.64 C398.95,131.95 398.98,130.26 399.00,128.56 C399.03,126.87 399.05,125.18 399.08,123.49 C399.11,121.79 399.13,120.10 399.16,118.41 C399.19,116.71 399.22,115.02 399.25,113.33 C399.28,111.63 399.31,109.94 399.34,108.25 C399.37,106.56 399.41,104.86 399.44,103.17 C399.47,101.48 399.51,99.79 399.54,98.09 C399.58,96.40 399.62,94.71 399.66,93.01 C399.69,91.32 399.73,89.63 399.77,87.94 C399.81,86.24 399.85,84.55 399.90,82.86 C399.94,81.17 399.98,79.47 400.03,77.78 C400.08,76.09 400.12,74.40 400.17,72.70 C400.22,71.01 400.27,69.32 400.33,67.63 C400.38,65.93 400.44,64.24 400.49,62.55 C400.55,60.86 400.61,59.16 400.68,57.47 C400.74,55.78 400.81,54.09 400.88,52.40 C400.95,50.71 401.02,49.01 401.10,47.32 C401.18,45.63 401.27,43.94 401.36,42.25 C401.45,40.56 401.55,38.87 401.66,37.18 C401.77,35.49 401.89,33.80 402.03,32.11 C402.17,30.43 402.12,28.62 402.52,27.06 C402.93,25.50 403.30,23.47 404.47,22.75 C405.64,22.02 407.85,22.71 409.55,22.70 C411.24,22.69 412.93,22.70 414.63,22.70 C416.32,22.70 418.01,22.70 419.71,22.70 C421.40,22.70 423.09,22.70 424.79,22.70 C426.48,22.70 428.17,22.70 429.87,22.70 C431.56,22.70 433.25,22.70 434.95,22.70 C436.64,22.70 438.33,22.70 440.02,22.70 C441.72,22.70 443.41,22.70 445.10,22.70 C446.80,22.70 448.49,22.70 450.18,22.70 C451.88,22.70 453.57,22.70 455.26,22.70 C456.96,22.70 458.65,22.70 460.34,22.70 C462.04,22.70 463.73,22.70 465.42,22.70 C467.12,22.70 468.81,22.70 470.50,22.70 C472.19,22.70 473.89,22.70 475.58,22.70 C477.27,22.70 478.97,22.70 480.66,22.70 C482.35,22.70 484.05,22.70 485.74,22.70 C487.43,22.70 489.13,22.70 490.82,22.70 C492.51,22.70 494.21,22.70 495.90,22.70 C497.59,22.70 499.29,22.70 500.98,22.70 C502.67,22.70 504.36,22.70 506.06,22.70 C507.75,22.70 509.44,22.70 511.14,22.70 C512.83,22.70 514.52,22.70 516.22,22.70 C517.91,22.70 519.60,22.70 521.30,22.70 C522.99,22.70 524.68,22.70 526.38,22.70 C528.07,22.70 529.76,22.70 531.46,22.70 C533.15,22.70 534.84,22.70 536.53,22.70 C538.23,22.70 539.92,22.70 541.61,22.70 C543.31,22.70 545.00,22.70 546.69,22.70 C548.39,22.70 550.08,22.70 551.77,22.70 C553.47,22.70 555.16,22.70 556.85,22.70 C558.55,22.70 560.24,22.70 561.93,22.70 C563.63,22.70 565.32,22.70 567.01,22.70 C568.70,22.70 570.40,22.70 572.09,22.70 C573.78,22.70 575.48,22.70 577.17,22.70 C578.86,22.70 580.56,22.70 582.25,22.70 C583.94,22.70 585.64,22.70 587.33,22.70 C589.02,22.70 590.72,22.70 592.41,22.70 C594.10,22.70 595.80,22.70 597.49,22.70 C599.18,22.70 600.87,22.70 602.57,22.70 C604.26,22.70 605.95,22.70 607.65,22.70 C609.34,22.70 611.03,22.70 612.73,22.70 C614.42,22.70 616.11,22.70 617.81,22.70 C619.50,22.70 621.19,22.70 622.89,22.70 C624.58,22.70 626.27,22.70 627.97,22.70 C629.66,22.70 631.35,22.70 633.04,22.70 C634.74,22.70 636.43,22.70 638.12,22.70 C639.82,22.70 641.51,22.70 643.20,22.70 C644.90,22.70 646.59,22.70 648.28,22.70 C649.98,22.70 651.67,22.70 653.36,22.70 C655.06,22.70 656.75,22.70 658.44,22.70 C660.14,22.70 661.83,22.70 663.52,22.70 C665.21,22.70 666.91,22.70 668.60,22.70 C670.29,22.70 671.99,22.70 673.68,22.70 C675.37,22.70 677.91,22.70 678.76,22.70" stroke="#555555" stroke-width="1.0" fill="none" stroke-linejoin="round"/>
<path d="M397.60,267.60 C397.80,266.80 398.55,264.45 398.80,262.81 C399.05,261.17 399.02,259.43 399.10,257.74 C399.18,256.04 399.23,254.35 399.29,252.66 C399.34,250.96 399.39,249.27 399.43,247.57 C399.48,245.88 399.51,244.19 399.55,242.49 C399.59,240.80 399.63,239.11 399.66,237.41 C399.70,235.72 399.73,234.02 399.76,232.33 C399.80,230.64 399.83,228.94 399.86,227.25 C399.89,225.55 399.92,223.86 399.96,222.17 C399.99,220.47 400.02,218.78 400.05,217.08 C400.07,215.39 400.10,213.69 400.13,212.00 C400.16,210.31 400.19,208.61 400.22,206.92 C400.24,205.22 400.27,203.53 400.30,201.84 C400.33,200.14 400.35,198.45 400.38,196.75 C400.41,195.06 400.43,193.37 400.46,191.67 C400.49,189.98 400.51,188.28 400.54,186.59 C400.57,184.89 400.59,183.20 400.62,181.51 C400.64,179.81 400.67,178.12 400.70,176.42 C400.72,174.73 400.75,173.04 400.77,171.34 C400.80,169.65 400.82,167.95 400.85,166.26 C400.87,164.57 400.90,162.87 400.93,161.18 C400.95,159.48 400.98,157.79 401.00,156.09 C401.03,154.40 401.05,152.71 401.08,151.01 C401.11,149.32 401.13,147.62 401.16,145.93 C401.18,144.24 401.21,142.54 401.24,140.85 C401.26,139.15 401.29,137.46 401.31,135.76 C401.34,134.07 401.37,132.38 401.39,130.68 C401.42,128.99 401.45,127.29 401.48,125.60 C401.50,123.91 401.53,122.21 401.56,120.52 C401.59,118.82 401.61,117.13 401.64,115.44 C401.67,113.74 401.70,112.05 401.73,110.35 C401.76,108.66 401.79,106.96 401.82,105.27 C401.85,103.58 401.88,101.88 401.91,100.19 C401.94,98.49 401.97,96.80 402.00,95.11 C402.03,93.41 402.06,91.72 402.10,90.02 C402.13,88.33 402.16,86.64 402.20,84.94 C402.23,83.25 402.27,81.55 402.30,79.86 C402.34,78.17 402.37,76.47 402.41,74.78 C402.45,73.08 402.49,71.39 402.53,69.70 C402.57,68.00 402.61,66.31 402.66,64.62 C402.70,62.92 402.74,61.23 402.79,59.53 C402.84,57.84 402.89,56.15 402.94,54.45 C402.99,52.76 403.04,51.07 403.10,49.37 C403.16,47.68 403.22,45.99 403.29,44.29 C403.36,42.60 403.43,40.91 403.51,39.22 C403.59,37.52 403.67,35.83 403.79,34.14 C403.90,32.45 403.98,30.75 404.17,29.07 C404.37,27.39 404.09,25.12 404.96,24.06 C405.82,23.00 407.78,22.93 409.36,22.70 C410.94,22.47 412.75,22.70 414.44,22.70 C416.14,22.70 417.83,22.70 419.53,22.70 C421.22,22.70 422.91,22.70 424.61,22.70 C426.30,22.70 428.00,22.70 429.69,22.70 C431.39,22.70 433.08,22.70 434.78,22.70 C436.47,22.70 438.16,22.70 439.86,22.70 C441.55,22.70 443.25,22.70 444.94,22.70 C446.64,22.70 448.33,22.70 450.02,22.70 C451.72,22.70 453.41,22.70 455.11,22.70 C456.80,22.70 458.50,22.70 460.19,22.70 C461.88,22.70 463.58,22.70 465.27,22.70 C466.97,22.70 468.66,22.70 470.36,22.70 C472.05,22.70 473.74,22.70 475.44,22.70 C477.13,22.70 478.83,22.70 480.52,22.70 C482.22,22.70 483.91,22.70 485.61,22.70 C487.30,22.70 488.99,22.70 490.69,22.70 C492.38,22.70 494.08,22.70 495.77,22.70 C497.47,22.70 499.16,22.70 500.85,22.70 C502.55,22.70 504.24,22.70 505.94,22.70 C507.63,22.70 509.33,22.70 511.02,22.70 C512.71,22.70 514.41,22.70 516.10,22.70 C517.80,22.70 519.49,22.70 521.19,22.70 C522.88,22.70 524.58,22.70 526.27,22.70 C527.96,22.70 529.66,22.70 531.35,22.70 C533.05,22.70 534.74,22.70 536.44,22.70 C538.13,22.70 539.82,22.70 541.52,22.70 C543.21,22.70 544.91,22.70 546.60,22.70 C548.30,22.70 549.99,22.70 551.68,22.70 C553.38,22.70 555.07,22.70 556.77,22.70 C558.46,22.70 560.16,22.70 561.85,22.70 C563.54,22.70 565.24,22.70 566.93,22.70 C568.63,22.70 570.32,22.70 572.02,22.70 C573.71,22.70 575.41,22.70 577.10,22.70 C578.79,22.70 580.49,22.70 582.18,22.70 C583.88,22.70 585.57,22.70 587.27,22.70 C588.96,22.70 590.65,22.70 592.35,22.70 C594.04,22.70 595.74,22.70 597.43,22.70 C599.13,22.70 600.82,22.70 602.51,22.70 C604.21,22.70 605.90,22.70 607.60,22.70 C609.29,22.70 610.99,22.70 612.68,22.70 C614.38,22.70 616.07,22.70 617.76,22.70 C619.46,22.70 621.15,22.70 622.85,22.70 C624.54,22.70 626.24,22.70 627.93,22.70 C629.62,22.70 631.32,22.70 633.01,22.70 C634.71,22.70 636.40,22.70 638.10,22.70 C639.79,22.70 641.48,22.70 643.18,22.70 C644.87,22.70 646.57,22.70 648.26,22.70 C649.96,22.70 651.65,22.70 653.34,22.70 C655.04,22.70 656.73,22.70 658.43,22.70 C660.12,22.70 661.82,22.70 663.51,22.70 C665.21,22.70 666.90,22.70 668.59,22.70 C670.29,22.70 671.98,22.70 673.68,22.70 C675.37,22.70 677.91,22.70 678.76,22.70" stroke="#e86464" stroke-width="1.0" fill="none" stroke-linejoin="round"/>
<path d="M397.60,267.60 C397.99,266.88 399.31,264.81 399.92,263.28 C400.53,261.74 400.90,260.03 401.26,258.37 C401.62,256.72 401.85,255.03 402.10,253.35 C402.34,251.68 402.53,249.99 402.71,248.30 C402.90,246.62 403.05,244.93 403.21,243.24 C403.36,241.55 403.49,239.86 403.63,238.16 C403.76,236.47 403.88,234.78 403.99,233.09 C404.11,231.40 404.21,229.70 404.32,228.01 C404.42,226.32 404.52,224.62 404.62,222.93 C404.71,221.23 404.80,219.54 404.89,217.85 C404.98,216.15 405.06,214.46 405.15,212.76 C405.23,211.07 405.31,209.37 405.39,207.68 C405.47,205.98 405.54,204.29 405.62,202.59 C405.69,200.90 405.76,199.20 405.83,197.51 C405.91,195.81 405.98,194.12 406.04,192.42 C406.11,190.73 406.18,189.03 406.25,187.34 C406.31,185.64 406.38,183.95 406.44,182.25 C406.51,180.56 406.57,178.86 406.63,177.17 C406.69,175.47 406.76,173.78 406.82,172.08 C406.88,170.38 406.94,168.69 407.00,166.99 C407.06,165.30 407.12,163.60 407.18,161.91 C407.24,160.21 407.29,158.52 407.35,156.82 C407.41,155.13 407.47,153.43 407.53,151.73 C407.58,150.04 407.64,148.34 407.70,146.65 C407.76,144.95 407.81,143.26 407.87,141.56 C407.93,139.87 407.98,138.17 408.04,136.47 C408.10,134.78 408.16,133.08 408.21,131.39 C408.27,129.69 408.33,128.00 408.38,126.30 C408.44,124.60 408.50,122.91 408.56,121.21 C408.61,119.52 408.67,117.82 408.73,116.13 C408.79,114.43 408.85,112.74 408.91,111.04 C408.97,109.34 409.02,107.65 409.08,105.95 C409.14,104.26 409.21,102.56 409.27,100.87 C409.33,99.17 409.39,97.48 409.45,95.78 C409.52,94.09 409.58,92.39 409.64,90.70 C409.71,89.00 409.77,87.30 409.84,85.61 C409.91,83.91 409.98,82.22 410.05,80.52 C410.12,78.83 410.19,77.13 410.26,75.44 C410.33,73.74 410.41,72.05 410.49,70.35 C410.56,68.66 410.64,66.96 410.73,65.27 C410.81,63.58 410.89,61.88 410.98,60.19 C411.07,58.49 411.16,56.80 411.26,55.11 C411.36,53.41 411.46,51.72 411.57,50.03 C411.68,48.33 411.80,46.64 411.93,44.95 C412.05,43.26 412.19,41.56 412.34,39.88 C412.50,38.19 412.65,36.50 412.86,34.81 C413.07,33.13 413.24,31.43 413.59,29.78 C413.94,28.12 414.04,26.07 414.97,24.89 C415.91,23.72 417.64,23.08 419.19,22.72 C420.74,22.35 422.58,22.70 424.28,22.70 C425.98,22.70 427.67,22.70 429.37,22.70 C431.06,22.70 432.76,22.70 434.46,22.70 C436.15,22.70 437.85,22.70 439.55,22.70 C441.24,22.70 442.94,22.70 444.64,22.70 C446.33,22.70 448.03,22.70 449.73,22.70 C451.42,22.70 453.12,22.70 454.82,22.70 C456.51,22.70 458.21,22.70 459.91,22.70 C461.60,22.70 463.30,22.70 465.00,22.70 C466.69,22.70 468.39,22.70 470.09,22.70 C471.78,22.70 473.48,22.70 475.17,22.70 C476.87,22.70 478.57,22.70 480.26,22.70 C481.96,22.70 483.66,22.70 485.35,22.70 C487.05,22.70 488.75,22.70 490.44,22.70 C492.14,22.70 493.84,22.70 495.53,22.70 C497.23,22.70 498.93,22.70 500.62,22.70 C502.32,22.70 504.02,22.70 505.71,22.70 C507.41,22.70 509.11,22.70 510.80,22.70 C512.50,22.70 514.20,22.70 515.89,22.70 C517.59,22.70 519.29,22.70 520.98,22.70 C522.68,22.70 524.37,22.70 526.07,22.70 C527.77,22.70 529.46,22.70 531.16,22.70 C532.86,22.70 534.55,22.70 536.25,22.70 C537.95,22.70 539.64,22.70 541.34,22.70 C543.04,22.70 544.73,22.70 546.43,22.70 C548.13,22.70 549.82,22.70 551.52,22.70 C553.22,22.70 554.91,22.70 556.61,22.70 C558.31,22.70 560.00,22.70 561.70,22.70 C563.40,22.70 565.09,22.70 566.79,22.70 C568.48,22.70 570.18,22.70 571.88,22.70 C573.57,22.70 575.27,22.70 576.97,22.70 C578.66,22.70 580.36,22.70 582.06,22.70 C583.75,22.70 585.45,22.70 587.15,22.70 C588.84,22.70 590.54,22.70 592.24,22.70 C593.93,22.70 595.63,22.70 597.33,22.70 C599.02,22.70 600.72,22.70 602.42,22.70 C604.11,22.70 605.81,22.70 607.51,22.70 C609.20,22.70 610.90,22.70 612.59,22.70 C614.29,22.70 615.99,22.70 617.68,22.70 C619.38,22.70 621.08,22.70 622.77,22.70 C624.47,22.70 626.17,22.70 627.86,22.70 C629.56,22.70 631.26,22.70 632.95,22.70 C634.65,22.70 636.35,22.70 638.04,22.70 C639.74,22.70 641.44,22.70 643.13,22.70 C644.83,22.70 646.53,22.70 648.22,22.70 C649.92,22.70 651.62,22.70 653.31,22.70 C655.01,22.70 656.70,22.70 658.40,22.70 C660.10,22.70 661.79,22.70 663.49,22.70 C665.19,22.70 666.88,22.70 668.58,22.70 C670.28,22.70 671.97,22.70 673.67,22.70 C675.37,22.70 677.91,22.70 678.76,22.70" stroke="#3a7be0" stroke-width="1.0" fill="none" stroke-linejoin="round"/>
<path d="M397.60,267.60 C398.06,266.93 399.65,265.04 400.33,263.56 C401.02,262.07 401.34,260.33 401.71,258.68 C402.09,257.04 402.32,255.36 402.58,253.69 C402.83,252.01 403.02,250.33 403.22,248.65 C403.41,246.97 403.58,245.29 403.74,243.61 C403.90,241.92 404.05,240.24 404.19,238.55 C404.33,236.87 404.45,235.18 404.58,233.50 C404.70,231.81 404.82,230.12 404.93,228.44 C405.05,226.75 405.15,225.06 405.26,223.37 C405.36,221.68 405.46,220.00 405.56,218.31 C405.65,216.62 405.75,214.93 405.84,213.24 C405.93,211.55 406.02,209.87 406.10,208.18 C406.19,206.49 406.27,204.80 406.36,203.11 C406.44,201.42 406.52,199.73 406.60,198.04 C406.68,196.35 406.76,194.66 406.83,192.97 C406.91,191.29 406.99,189.60 407.06,187.91 C407.13,186.22 407.21,184.53 407.28,182.84 C407.35,181.15 407.42,179.46 407.49,177.77 C407.56,176.08 407.63,174.39 407.70,172.70 C407.77,171.01 407.84,169.32 407.91,167.63 C407.98,165.94 408.04,164.25 408.11,162.56 C408.18,160.87 408.24,159.18 408.31,157.49 C408.38,155.80 408.44,154.11 408.51,152.42 C408.58,150.73 408.64,149.04 408.71,147.35 C408.77,145.66 408.84,143.97 408.90,142.28 C408.97,140.60 409.03,138.91 409.10,137.22 C409.16,135.53 409.23,133.84 409.29,132.15 C409.36,130.46 409.43,128.77 409.49,127.08 C409.56,125.39 409.62,123.70 409.69,122.01 C409.76,120.32 409.82,118.63 409.89,116.94 C409.96,115.25 410.02,113.56 410.09,111.87 C410.16,110.18 410.23,108.49 410.30,106.80 C410.37,105.11 410.44,103.42 410.51,101.73 C410.58,100.04 410.65,98.35 410.72,96.66 C410.79,94.97 410.87,93.28 410.94,91.59 C411.01,89.90 411.09,88.22 411.17,86.53 C411.24,84.84 411.32,83.15 411.40,81.46 C411.48,79.77 411.56,78.08 411.65,76.39 C411.73,74.70 411.82,73.01 411.91,71.32 C412.00,69.64 412.09,67.95 412.18,66.26 C412.27,64.57 412.37,62.88 412.47,61.19 C412.57,59.51 412.68,57.82 412.79,56.13 C412.90,54.44 413.01,52.76 413.14,51.07 C413.26,49.38 413.39,47.70 413.53,46.01 C413.67,44.33 413.82,42.64 413.98,40.96 C414.15,39.28 414.32,37.59 414.54,35.92 C414.76,34.24 414.96,32.55 415.28,30.90 C415.61,29.24 415.72,27.33 416.51,25.98 C417.30,24.63 418.60,23.35 420.03,22.80 C421.46,22.25 423.41,22.72 425.10,22.70 C426.79,22.68 428.48,22.70 430.17,22.70 C431.87,22.70 433.56,22.70 435.25,22.70 C436.94,22.70 438.63,22.70 440.32,22.70 C442.01,22.70 443.70,22.70 445.39,22.70 C447.08,22.70 448.78,22.70 450.47,22.70 C452.16,22.70 453.85,22.70 455.54,22.70 C457.23,22.70 458.92,22.70 460.61,22.70 C462.30,22.70 464.00,22.70 465.69,22.70 C467.38,22.70 469.07,22.70 470.76,22.70 C472.45,22.70 474.14,22.70 475.83,22.70 C477.52,22.70 479.21,22.70 480.91,22.70 C482.60,22.70 484.29,22.70 485.98,22.70 C487.67,22.70 489.36,22.70 491.05,22.70 C492.74,22.70 494.43,22.70 496.13,22.70 C497.82,22.70 499.51,22.70 501.20,22.70 C502.89,22.70 504.58,22.70 506.27,22.70 C507.96,22.70 509.65,22.70 511.34,22.70 C513.04,22.70 514.73,22.70 516.42,22.70 C518.11,22.70 519.80,22.70 521.49,22.70 C523.18,22.70 524.87,22.70 526.56,22.70 C528.26,22.70 529.95,22.70 531.64,22.70 C533.33,22.70 535.02,22.70 536.71,22.70 C538.40,22.70 540.09,22.70 541.78,22.70 C543.48,22.70 545.17,22.70 546.86,22.70 C548.55,22.70 550.24,22.70 551.93,22.70 C553.62,22.70 555.31,22.70 557.00,22.70 C558.69,22.70 560.39,22.70 562.08,22.70 C563.77,22.70 565.46,22.70 567.15,22.70 C568.84,22.70 570.53,22.70 572.22,22.70 C573.91,22.70 575.61,22.70 577.30,22.70 C578.99,22.70 580.68,22.70 582.37,22.70 C584.06,22.70 585.75,22.70 587.44,22.70 C589.13,22.70 590.82,22.70 592.52,22.70 C594.21,22.70 595.90,22.70 597.59,22.70 C599.28,22.70 600.97,22.70 602.66,22.70 C604.35,22.70 606.04,22.70 607.74,22.70 C609.43,22.70 611.12,22.70 612.81,22.70 C614.50,22.70 616.19,22.70 617.88,22.70 C619.57,22.70 621.26,22.70 622.95,22.70 C624.65,22.70 626.34,22.70 628.03,22.70 C629.72,22.70 631.41,22.70 633.10,22.70 C634.79,22.70 636.48,22.70 638.17,22.70 C639.87,22.70 641.56,22.70 643.25,22.70 C644.94,22.70 646.63,22.70 648.32,22.70 C650.01,22.70 651.70,22.70 653.39,22.70 C655.09,22.70 656.78,22.70 658.47,22.70 C660.16,22.70 661.85,22.70 663.54,22.70 C665.23,22.70 666.92,22.70 668.61,22.70 C670.30,22.70 672.00,22.70 673.69,22.70 C675.38,22.70 677.91,22.70 678.76,22.70" stroke="#43ad7a" stroke-width="1.0" fill="none" stroke-linejoin="round"/>
<path d="M397.60,267.60 C398.42,267.51 400.93,267.43 402.55,267.06 C404.16,266.69 405.94,266.29 407.30,265.41 C408.66,264.53 409.84,263.16 410.72,261.77 C411.61,260.39 412.10,258.69 412.62,257.09 C413.15,255.50 413.52,253.84 413.89,252.20 C414.26,250.56 414.57,248.89 414.87,247.24 C415.17,245.58 415.44,243.91 415.70,242.25 C415.96,240.58 416.20,238.91 416.43,237.24 C416.66,235.57 416.88,233.90 417.09,232.22 C417.30,230.55 417.50,228.88 417.70,227.20 C417.89,225.53 418.08,223.85 418.27,222.17 C418.45,220.50 418.63,218.82 418.81,217.14 C418.99,215.47 419.16,213.79 419.33,212.11 C419.50,210.43 419.66,208.76 419.83,207.08 C419.99,205.40 420.15,203.72 420.31,202.04 C420.47,200.36 420.62,198.68 420.78,197.00 C420.93,195.32 421.08,193.65 421.23,191.97 C421.38,190.29 421.53,188.61 421.68,186.93 C421.82,185.25 421.97,183.57 422.11,181.89 C422.26,180.21 422.40,178.53 422.54,176.85 C422.69,175.17 422.83,173.48 422.97,171.80 C423.11,170.12 423.25,168.44 423.39,166.76 C423.53,165.08 423.66,163.40 423.80,161.72 C423.94,160.04 424.08,158.36 424.21,156.68 C424.35,155.00 424.49,153.32 424.62,151.64 C424.76,149.96 424.89,148.27 425.03,146.59 C425.16,144.91 425.30,143.23 425.44,141.55 C425.57,139.87 425.71,138.19 425.84,136.51 C425.98,134.83 426.11,133.15 426.25,131.47 C426.38,129.78 426.52,128.10 426.66,126.42 C426.79,124.74 426.93,123.06 427.07,121.38 C427.20,119.70 427.34,118.02 427.48,116.34 C427.62,114.66 427.76,112.98 427.90,111.30 C428.04,109.62 428.18,107.94 428.32,106.26 C428.47,104.58 428.61,102.90 428.76,101.21 C428.90,99.53 429.05,97.85 429.19,96.18 C429.34,94.50 429.49,92.82 429.65,91.14 C429.80,89.46 429.95,87.78 430.11,86.10 C430.27,84.42 430.42,82.74 430.59,81.06 C430.75,79.38 430.92,77.71 431.09,76.03 C431.26,74.35 431.43,72.67 431.61,71.00 C431.79,69.32 431.97,67.64 432.17,65.97 C432.36,64.29 432.55,62.62 432.76,60.94 C432.97,59.27 433.18,57.60 433.41,55.93 C433.64,54.26 433.88,52.59 434.14,50.92 C434.40,49.25 434.67,47.59 434.98,45.93 C435.29,44.27 435.61,42.62 435.99,40.98 C436.38,39.34 436.77,37.69 437.31,36.09 C437.84,34.50 438.40,32.87 439.20,31.41 C440.01,29.94 440.96,28.47 442.13,27.30 C443.31,26.14 444.74,25.10 446.24,24.40 C447.74,23.71 449.46,23.41 451.12,23.14 C452.77,22.87 454.48,22.86 456.16,22.79 C457.85,22.72 459.54,22.73 461.22,22.71 C462.91,22.70 464.59,22.70 466.28,22.70 C467.97,22.70 469.65,22.70 471.34,22.70 C473.03,22.70 474.71,22.70 476.40,22.70 C478.09,22.70 479.77,22.70 481.46,22.70 C483.14,22.70 484.83,22.70 486.52,22.70 C488.20,22.70 489.89,22.70 491.58,22.70 C493.26,22.70 494.95,22.70 496.64,22.70 C498.32,22.70 500.01,22.70 501.69,22.70 C503.38,22.70 505.07,22.70 506.75,22.70 C508.44,22.70 510.13,22.70 511.81,22.70 C513.50,22.70 515.19,22.70 516.87,22.70 C518.56,22.70 520.24,22.70 521.93,22.70 C523.62,22.70 525.30,22.70 526.99,22.70 C528.68,22.70 530.36,22.70 532.05,22.70 C533.73,22.70 535.42,22.70 537.11,22.70 C538.79,22.70 540.48,22.70 542.17,22.70 C543.85,22.70 545.54,22.70 547.23,22.70 C548.91,22.70 550.60,22.70 552.28,22.70 C553.97,22.70 555.66,22.70 557.34,22.70 C559.03,22.70 560.72,22.70 562.40,22.70 C564.09,22.70 565.78,22.70 567.46,22.70 C569.15,22.70 570.83,22.70 572.52,22.70 C574.21,22.70 575.89,22.70 577.58,22.70 C579.27,22.70 580.95,22.70 582.64,22.70 C584.32,22.70 586.01,22.70 587.70,22.70 C589.38,22.70 591.07,22.70 592.76,22.70 C594.44,22.70 596.13,22.70 597.82,22.70 C599.50,22.70 601.19,22.70 602.87,22.70 C604.56,22.70 606.25,22.70 607.93,22.70 C609.62,22.70 611.31,22.70 612.99,22.70 C614.68,22.70 616.37,22.70 618.05,22.70 C619.74,22.70 621.42,22.70 623.11,22.70 C624.80,22.70 626.48,22.70 628.17,22.70 C629.86,22.70 631.54,22.70 633.23,22.70 C634.92,22.70 636.60,22.70 638.29,22.70 C639.97,22.70 641.66,22.70 643.35,22.70 C645.03,22.70 646.72,22.70 648.41,22.70 C650.09,22.70 651.78,22.70 653.46,22.70 C655.15,22.70 656.84,22.70 658.52,22.70 C660.21,22.70 661.90,22.70 663.58,22.70 C665.27,22.70 666.96,22.70 668.64,22.70 C670.33,22.70 672.01,22.70 673.70,22.70 C675.39,22.70 677.92,22.70 678.76,22.70" stroke="#b07ee8" stroke-width="1.0" fill="none" stroke-linejoin="round"/>
<path d="M397.60,267.60 C398.30,267.27 400.33,266.32 401.80,265.63 C403.27,264.94 404.91,264.27 406.40,263.46 C407.88,262.64 409.32,261.73 410.70,260.75 C412.08,259.77 413.41,258.70 414.67,257.57 C415.94,256.44 417.14,255.24 418.30,254.00 C419.45,252.76 420.54,251.45 421.59,250.12 C422.64,248.79 423.64,247.42 424.60,246.02 C425.56,244.62 426.48,243.19 427.36,241.74 C428.24,240.30 429.09,238.82 429.91,237.34 C430.73,235.85 431.51,234.35 432.27,232.83 C433.04,231.32 433.77,229.79 434.49,228.25 C435.21,226.71 435.90,225.16 436.57,223.61 C437.25,222.05 437.91,220.49 438.55,218.92 C439.19,217.35 439.82,215.77 440.43,214.19 C441.04,212.61 441.64,211.02 442.23,209.43 C442.82,207.84 443.39,206.24 443.96,204.64 C444.52,203.04 445.08,201.44 445.63,199.83 C446.17,198.22 446.71,196.62 447.24,195.00 C447.77,193.39 448.29,191.78 448.81,190.16 C449.33,188.55 449.84,186.93 450.34,185.31 C450.84,183.69 451.34,182.07 451.84,180.44 C452.33,178.82 452.82,177.20 453.30,175.57 C453.79,173.95 454.27,172.32 454.75,170.69 C455.22,169.06 455.70,167.43 456.17,165.80 C456.64,164.17 457.11,162.54 457.58,160.91 C458.04,159.28 458.51,157.65 458.97,156.02 C459.44,154.39 459.90,152.75 460.36,151.12 C460.82,149.49 461.28,147.86 461.74,146.22 C462.20,144.59 462.66,142.96 463.12,141.32 C463.58,139.69 464.04,138.06 464.50,136.42 C464.96,134.79 465.42,133.16 465.88,131.53 C466.35,129.90 466.81,128.26 467.28,126.63 C467.75,125.00 468.21,123.37 468.68,121.74 C469.16,120.11 469.63,118.48 470.11,116.85 C470.58,115.23 471.07,113.60 471.55,111.97 C472.04,110.35 472.52,108.72 473.02,107.10 C473.51,105.48 474.01,103.86 474.52,102.24 C475.02,100.62 475.53,99.00 476.05,97.38 C476.57,95.77 477.09,94.15 477.63,92.54 C478.16,90.93 478.70,89.33 479.25,87.72 C479.81,86.12 480.37,84.52 480.94,82.92 C481.51,81.32 482.09,79.73 482.69,78.14 C483.29,76.55 483.90,74.97 484.53,73.39 C485.15,71.82 485.80,70.25 486.46,68.68 C487.12,67.12 487.80,65.57 488.50,64.02 C489.20,62.48 489.92,60.94 490.67,59.42 C491.43,57.90 492.20,56.39 493.01,54.90 C493.82,53.41 494.65,51.93 495.53,50.48 C496.41,49.03 497.32,47.60 498.28,46.20 C499.24,44.80 500.24,43.43 501.30,42.10 C502.36,40.78 503.47,39.49 504.64,38.26 C505.80,37.03 507.03,35.85 508.32,34.75 C509.61,33.65 510.96,32.61 512.36,31.67 C513.77,30.72 515.24,29.86 516.75,29.09 C518.26,28.32 519.82,27.65 521.41,27.05 C523.00,26.46 524.63,25.97 526.27,25.54 C527.91,25.11 529.57,24.77 531.24,24.48 C532.91,24.19 534.60,23.97 536.28,23.78 C537.97,23.59 539.66,23.45 541.35,23.33 C543.05,23.22 544.74,23.13 546.44,23.06 C548.13,22.99 549.83,22.94 551.52,22.90 C553.22,22.86 554.92,22.83 556.61,22.81 C558.31,22.78 560.00,22.77 561.70,22.76 C563.40,22.74 565.09,22.74 566.79,22.73 C568.49,22.72 570.18,22.72 571.88,22.71 C573.58,22.71 575.27,22.71 576.97,22.71 C578.67,22.70 580.36,22.70 582.06,22.70 C583.76,22.70 585.45,22.70 587.15,22.70 C588.85,22.70 590.54,22.70 592.24,22.70 C593.93,22.70 595.63,22.70 597.33,22.70 C599.02,22.70 600.72,22.70 602.42,22.70 C604.11,22.70 605.81,22.70 607.51,22.70 C609.20,22.70 610.90,22.70 612.60,22.70 C614.29,22.70 615.99,22.70 617.69,22.70 C619.38,22.70 621.08,22.70 622.78,22.70 C624.47,22.70 626.17,22.70 627.86,22.70 C629.56,22.70 631.26,22.70 632.95,22.70 C634.65,22.70 636.35,22.70 638.04,22.70 C639.74,22.70 641.44,22.70 643.13,22.70 C644.83,22.70 646.53,22.70 648.22,22.70 C649.92,22.70 651.62,22.70 653.31,22.70 C655.01,22.70 656.71,22.70 658.40,22.70 C660.10,22.70 661.79,22.70 663.49,22.70 C665.19,22.70 666.88,22.70 668.58,22.70 C670.28,22.70 671.97,22.70 673.67,22.70 C675.37,22.70 677.91,22.70 678.76,22.70" stroke="#d6a42a" stroke-width="1.1" fill="none" stroke-linejoin="round"/>
<path d="M397.60,267.60 C398.42,267.54 400.88,267.34 402.55,267.24 C404.22,267.14 405.93,267.10 407.63,267.00 C409.32,266.89 411.01,266.78 412.69,266.62 C414.38,266.45 416.07,266.27 417.74,266.03 C419.42,265.79 421.09,265.51 422.75,265.17 C424.41,264.84 426.07,264.46 427.70,264.03 C429.34,263.60 430.97,263.13 432.57,262.59 C434.18,262.05 435.77,261.46 437.34,260.82 C438.90,260.17 440.45,259.46 441.96,258.70 C443.47,257.94 444.96,257.12 446.41,256.25 C447.86,255.38 449.29,254.46 450.67,253.49 C452.06,252.52 453.41,251.49 454.73,250.43 C456.05,249.37 457.34,248.26 458.59,247.12 C459.84,245.98 461.06,244.80 462.24,243.59 C463.43,242.38 464.58,241.14 465.71,239.88 C466.84,238.61 467.93,237.32 469.00,236.00 C470.07,234.69 471.12,233.35 472.14,232.00 C473.16,230.65 474.15,229.28 475.12,227.89 C476.10,226.50 477.05,225.10 477.98,223.69 C478.91,222.27 479.82,220.84 480.72,219.41 C481.62,217.97 482.49,216.52 483.36,215.06 C484.22,213.60 485.07,212.14 485.90,210.66 C486.74,209.19 487.56,207.70 488.36,206.22 C489.17,204.73 489.97,203.23 490.75,201.73 C491.54,200.23 492.31,198.72 493.08,197.21 C493.84,195.70 494.60,194.18 495.35,192.66 C496.10,191.14 496.83,189.62 497.57,188.09 C498.30,186.56 499.02,185.03 499.74,183.49 C500.46,181.96 501.17,180.42 501.88,178.88 C502.58,177.34 503.28,175.80 503.98,174.26 C504.67,172.71 505.36,171.16 506.05,169.62 C506.74,168.07 507.42,166.52 508.10,164.97 C508.78,163.41 509.46,161.86 510.13,160.31 C510.81,158.75 511.48,157.20 512.15,155.64 C512.82,154.08 513.49,152.53 514.16,150.97 C514.82,149.41 515.49,147.86 516.16,146.30 C516.82,144.74 517.49,143.18 518.15,141.62 C518.82,140.07 519.48,138.51 520.15,136.95 C520.81,135.39 521.48,133.83 522.15,132.28 C522.82,130.72 523.49,129.16 524.16,127.61 C524.83,126.05 525.50,124.50 526.18,122.95 C526.86,121.39 527.54,119.84 528.22,118.29 C528.90,116.74 529.59,115.19 530.28,113.64 C530.97,112.10 531.67,110.55 532.37,109.01 C533.07,107.47 533.78,105.93 534.49,104.39 C535.20,102.85 535.92,101.32 536.65,99.79 C537.37,98.26 538.10,96.73 538.85,95.21 C539.59,93.68 540.34,92.16 541.10,90.65 C541.86,89.14 542.63,87.63 543.41,86.12 C544.19,84.62 544.98,83.12 545.78,81.63 C546.59,80.14 547.40,78.65 548.24,77.18 C549.07,75.70 549.91,74.23 550.78,72.78 C551.64,71.32 552.52,69.87 553.41,68.43 C554.31,67.00 555.23,65.57 556.17,64.16 C557.11,62.75 558.06,61.35 559.05,59.97 C560.03,58.59 561.04,57.23 562.07,55.89 C563.11,54.55 564.17,53.22 565.26,51.93 C566.35,50.64 567.47,49.36 568.63,48.12 C569.78,46.89 570.97,45.67 572.19,44.50 C573.42,43.33 574.68,42.20 575.97,41.11 C577.27,40.02 578.60,38.97 579.97,37.97 C581.34,36.98 582.75,36.03 584.19,35.14 C585.63,34.25 587.11,33.42 588.62,32.64 C590.12,31.87 591.66,31.15 593.22,30.49 C594.78,29.84 596.37,29.24 597.97,28.70 C599.58,28.16 601.21,27.67 602.84,27.24 C604.48,26.80 606.13,26.42 607.79,26.07 C609.45,25.73 611.12,25.44 612.79,25.17 C614.46,24.91 616.14,24.68 617.82,24.48 C619.51,24.28 621.19,24.12 622.88,23.97 C624.57,23.82 626.26,23.70 627.95,23.59 C629.64,23.48 631.33,23.39 633.02,23.31 C634.72,23.23 636.41,23.17 638.10,23.12 C639.80,23.06 641.49,23.02 643.18,22.98 C644.88,22.94 646.57,22.91 648.27,22.89 C649.96,22.86 651.65,22.84 653.35,22.82 C655.04,22.80 656.74,22.79 658.43,22.78 C660.12,22.77 661.82,22.76 663.51,22.75 C665.21,22.74 666.90,22.74 668.60,22.73 C670.29,22.73 671.98,22.72 673.68,22.72 C675.37,22.71 677.91,22.70 678.76,22.70" stroke="#2fd0d2" stroke-width="1.3" fill="none" stroke-linejoin="round"/>
<text x="398.10" y="281.80" text-anchor="middle" font-size="11.7">0</text>
<text x="429.34" y="281.80" text-anchor="middle" font-size="11.7">2</text>
<text x="460.58" y="281.80" text-anchor="middle" font-size="11.7">4</text>
<text x="491.82" y="281.80" text-anchor="middle" font-size="11.7">6</text>
<text x="523.06" y="281.80" text-anchor="middle" font-size="11.7">8</text>
<text x="555.30" y="281.80" text-anchor="middle" font-size="11.7">10</text>
<text x="586.54" y="281.80" text-anchor="middle" font-size="11.7">12</text>
<text x="617.78" y="281.80" text-anchor="middle" font-size="11.7">14</text>
<text x="649.02" y="281.80" text-anchor="middle" font-size="11.7">16</text>
<text x="680.26" y="281.80" text-anchor="middle" font-size="11.7">18</text>
<text x="395.60" y="271.00" text-anchor="end" font-size="11.7">0%</text>
<text x="395.60" y="222.02" text-anchor="end" font-size="11.7">20%</text>
<text x="395.60" y="173.04" text-anchor="end" font-size="11.7">40%</text>
<text x="395.60" y="124.06" text-anchor="end" font-size="11.7">60%</text>
<text x="395.60" y="75.08" text-anchor="end" font-size="11.7">80%</text>
<text x="395.60" y="26.10" text-anchor="end" font-size="11.7">100%</text>
</g>
<line x1="271.30" y1="48.40" x2="292.40" y2="48.40" stroke="#555555" stroke-width="1.1" opacity="1"/>
<text x="295.70" y="52.20" font-size="11.1">Ni</text>
<line x1="271.30" y1="61.80" x2="292.40" y2="61.80" stroke="#e86464" stroke-width="1.4" opacity="0.75"/>
<text x="295.70" y="65.60" font-size="11.1">Cd</text>
<line x1="271.30" y1="75.20" x2="292.40" y2="75.20" stroke="#3a7be0" stroke-width="1.4" opacity="0.75"/>
<text x="295.70" y="79.00" font-size="11.1">Cu</text>
<line x1="271.30" y1="88.60" x2="292.40" y2="88.60" stroke="#43ad7a" stroke-width="1.4" opacity="0.75"/>
<text x="295.70" y="92.40" font-size="11.1">Cr</text>
<line x1="271.30" y1="102.00" x2="292.40" y2="102.00" stroke="#b07ee8" stroke-width="1.4" opacity="0.75"/>
<text x="295.70" y="105.80" font-size="11.1">Pb</text>
<line x1="271.30" y1="115.50" x2="292.40" y2="115.50" stroke="#d6a42a" stroke-width="1.4" opacity="0.75"/>
<text x="295.70" y="119.30" font-size="11.1">As</text>
<line x1="271.30" y1="128.90" x2="292.40" y2="128.90" stroke="#2fd0d2" stroke-width="1.9" opacity="0.75"/>
<text x="295.70" y="132.70" font-size="11.1">Total</text>
<line x1="602.00" y1="48.20" x2="622.00" y2="48.20" stroke="#555555" stroke-width="1.1" opacity="1"/>
<text x="625.40" y="52.00" font-size="11.1">Beans</text>
<line x1="602.00" y1="61.80" x2="622.00" y2="61.80" stroke="#e86464" stroke-width="1.4" opacity="0.75"/>
<text x="625.40" y="65.60" font-size="11.1">Eggs</text>
<line x1="602.00" y1="75.20" x2="622.00" y2="75.20" stroke="#3a7be0" stroke-width="1.4" opacity="0.75"/>
<text x="625.40" y="79.00" font-size="11.1">Vegetables</text>
<line x1="602.00" y1="88.50" x2="622.00" y2="88.50" stroke="#43ad7a" stroke-width="1.4" opacity="0.75"/>
<text x="625.40" y="92.30" font-size="11.1">Meat</text>
<line x1="602.00" y1="102.20" x2="622.00" y2="102.20" stroke="#b07ee8" stroke-width="1.4" opacity="0.75"/>
<text x="625.40" y="106.00" font-size="11.1">Cereals</text>
<line x1="602.00" y1="115.50" x2="622.00" y2="115.50" stroke="#d6a42a" stroke-width="1.4" opacity="0.75"/>
<text x="625.40" y="119.30" font-size="11.1">Aquatic food</text>
<line x1="602.00" y1="129.00" x2="622.00" y2="129.00" stroke="#2fd0d2" stroke-width="1.9" opacity="0.75"/>
<text x="625.40" y="132.80" font-size="11.1">Total</text>
<text x="183.50" y="166.80" style="fill:#222222;stroke:#222222;stroke-width:0.22px" font-size="9.85">Mean = 0.03</text>
<text x="183.50" y="180.20" style="fill:#ff2222;stroke:#ff2222;stroke-width:0.22px" font-size="9.85">Mean = 0.13</text>
<text x="183.50" y="193.60" style="fill:#2222ee;stroke:#2222ee;stroke-width:0.22px" font-size="9.85">Mean = 0.41</text>
<text x="183.50" y="207.00" style="fill:#44bb22;stroke:#44bb22;stroke-width:0.22px" font-size="9.85">Mean = 0.52</text>
<text x="183.50" y="220.40" style="fill:#8822ff;stroke:#8822ff;stroke-width:0.22px" font-size="9.85">Mean = 0.84</text>
<text x="183.50" y="233.80" style="fill:#ff8a2a;stroke:#ff8a2a;stroke-width:0.22px" font-size="9.85">Mean = 5.38</text>
<text x="183.50" y="247.20" style="fill:#3be3b3;stroke:#3be3b3;stroke-width:0.22px" font-size="9.85">Mean = 7.30</text>
<text x="522.70" y="166.80" style="fill:#222222;stroke:#222222;stroke-width:0.22px" font-size="9.85">Mean = 0.16</text>
<text x="522.70" y="180.20" style="fill:#ff2222;stroke:#ff2222;stroke-width:0.22px" font-size="9.85">Mean = 0.21</text>
<text x="522.70" y="193.60" style="fill:#2222ee;stroke:#2222ee;stroke-width:0.22px" font-size="9.85">Mean = 0.59</text>
<text x="522.70" y="207.00" style="fill:#44bb22;stroke:#44bb22;stroke-width:0.22px" font-size="9.85">Mean = 0.69</text>
<text x="522.70" y="220.40" style="fill:#8822ff;stroke:#8822ff;stroke-width:0.22px" font-size="9.85">Mean = 1.56</text>
<text x="522.70" y="233.80" style="fill:#ff8a2a;stroke:#ff8a2a;stroke-width:0.22px" font-size="9.85">Mean = 4.09</text>
<text x="522.70" y="247.20" style="fill:#3be3b3;stroke:#3be3b3;stroke-width:0.22px" font-size="9.85">Mean = 7.30</text>
<text x="317.4" y="250" font-size="19" text-anchor="middle">a</text>
<text x="654.2" y="249.5" font-size="18" text-anchor="middle">b</text>
<text x="175.4" y="298.9" font-size="12.6" text-anchor="middle">HI</text>
<text x="522.5" y="298.9" font-size="12.6" text-anchor="middle">HI</text>
<text transform="translate(8.6,140.4) rotate(-90)" font-size="12.7" text-anchor="middle">Cumulative probability</text>
<text transform="translate(364.2,140) rotate(-90)" font-size="12.7" text-anchor="middle">Cumulative probability</text>
<text x="65.3" y="9.0" font-size="12" text-anchor="middle">negligible risk</text>
<text x="202.6" y="9.0" font-size="12" text-anchor="middle">non-carcinogenic risk</text>
<text x="416.8" y="9.0" font-size="12" text-anchor="middle">negligible risk</text>
<text x="547.7" y="9.0" font-size="12" text-anchor="middle">non-carcinogenic risk</text>
<line x1="52.30" y1="11.80" x2="52.30" y2="17.20" stroke="#000" stroke-width="0.9"/><path d="M50.70,16.20L53.90,16.20L52.30,22.20Z" fill="#000"/>
<line x1="205.00" y1="11.80" x2="205.00" y2="17.20" stroke="#000" stroke-width="0.9"/><path d="M203.40,16.20L206.60,16.20L205.00,22.20Z" fill="#000"/>
<line x1="403.40" y1="11.80" x2="403.40" y2="17.50" stroke="#000" stroke-width="0.9"/><path d="M401.80,16.50L405.00,16.50L403.40,22.50Z" fill="#000"/>
<line x1="533.90" y1="11.80" x2="533.90" y2="17.50" stroke="#000" stroke-width="0.9"/><path d="M532.30,16.50L535.50,16.50L533.90,22.50Z" fill="#000"/>
</svg>
</body></html>
